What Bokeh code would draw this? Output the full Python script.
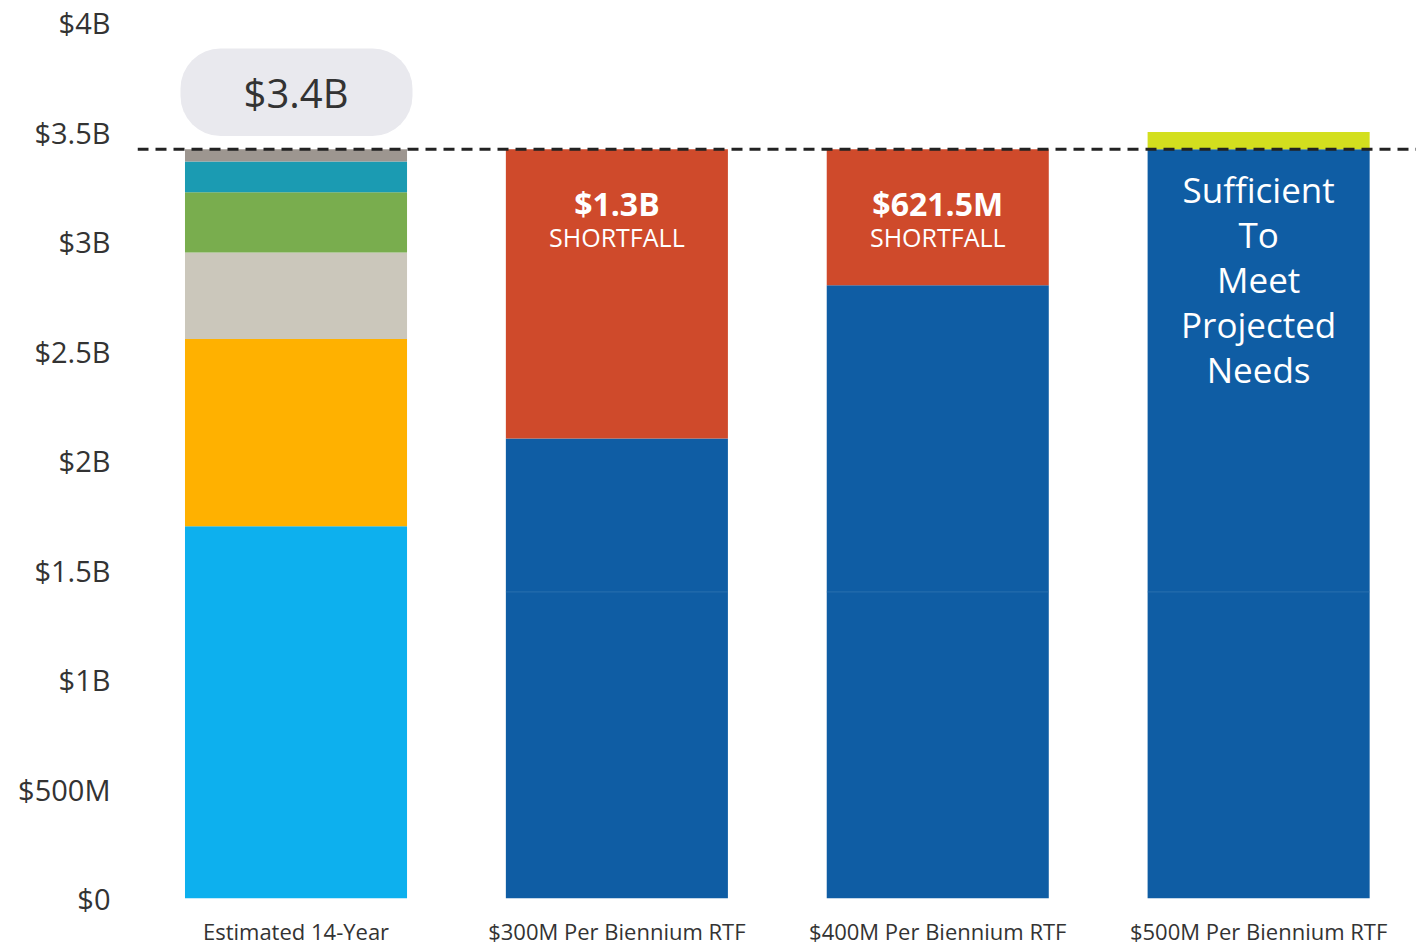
from bokeh.plotting import figure
from bokeh.models import Range1d, FixedTicker, Span
from bokeh.core.properties import value
from bokeh.embed import file_html
from bokeh.resources import INLINE

# ---- data ----
categories = ["Estimated 14-Year", "$300M Per Biennium RTF",
              "$400M Per Biennium RTF", "$500M Per Biennium RTF"]
total_need = 3.4215  # $B

need_segments = [1.70, 0.855, 0.395, 0.275, 0.14, 0.0565]
need_colors = ["#0db0ee", "#ffb100", "#cbc7bb", "#79ad4e", "#1b9bb2", "#9d9690"]

rtf_funded = [2.10, 2.80, 3.50]          # bars 2-4
rtf_split = 1.40                          # faint boundary in funded bars
shortfall_labels = ["$1.3B", "$621.5M"]
sufficient_lines = ["Sufficient", "To", "Meet", "Projected", "Needs"]
badge_label = "$3.4B"

y_ticks = [0, 0.5, 1, 1.5, 2, 2.5, 3, 3.5, 4]
y_tick_labels = ["$0", "$500M", "$1B", "$1.5B", "$2B", "$2.5B", "$3B", "$3.5B", "$4B"]

BLUE = "#0f5da4"
RED = "#cf4a2b"
LIME = "#d3df1e"
FONT = "Open Sans"
W = 0.692

p = figure(width=1416, height=948, output_backend="svg", toolbar_location=None,
           x_range=Range1d(-0.494, 3.492), y_range=Range1d(0, 4),
           min_border_left=137, min_border_right=0, min_border_top=22,
           min_border_bottom=48)
p.outline_line_color = None
p.xgrid.visible = False
p.ygrid.visible = False
p.background_fill_color = "white"

# bar 1 stacked
bottom = 0.0
for v, c in zip(need_segments, need_colors):
    p.vbar(x=[0], bottom=[bottom], top=[bottom + v], width=W, fill_color=c, line_color=None)
    bottom += v

# bars 2-4
xs = [1, 2, 3]
for x, f in zip(xs, rtf_funded):
    top_blue = min(f, total_need)
    p.vbar(x=[x], bottom=[0], top=[top_blue], width=W, fill_color=BLUE, line_color=None)
    if f < total_need:
        p.vbar(x=[x], bottom=[f], top=[total_need], width=W, fill_color=RED, line_color=None)
    else:
        p.vbar(x=[x], bottom=[total_need], top=[f], width=W, fill_color=LIME, line_color=None)
p.segment(x0=[x - W / 2 for x in xs], x1=[x + W / 2 for x in xs],
          y0=[rtf_split] * 3, y1=[rtf_split] * 3, line_color="#3c7cb6", line_width=1, line_alpha=0.6)

# dashed need line
p.add_layout(Span(location=total_need, dimension="width", line_color="#222222",
                  line_width=3, line_dash="11 7"))

# badge
p.quad(left=[-0.36], right=[0.363], bottom=[total_need + 0.06], top=[total_need + 0.46],
       fill_color="#e9e9ee", line_color=None, border_radius=40)
p.text(x=[0], y=[total_need + 0.26], text=[badge_label], text_align="center",
       text_baseline="middle", text_font=value(FONT), text_font_size="40px",
       text_color="#333333")

# shortfall labels
for x, lab in zip([1, 2], shortfall_labels):
    p.text(x=[x], y=[total_need - 0.25], text=[lab], text_align="center",
           text_baseline="middle", text_font=value(FONT), text_font_size="32px",
           text_font_style="bold", text_color="white")
    p.text(x=[x], y=[total_need - 0.40], text=["SHORTFALL"], text_align="center",
           text_baseline="middle", text_font=value(FONT), text_font_size="25px",
           text_color="white")

# sufficient text
p.text(x=[3] * len(sufficient_lines), y=[total_need - 0.185] * len(sufficient_lines),
       y_offset=[i * 45 for i in range(len(sufficient_lines))],
       text=sufficient_lines, text_align="center", text_baseline="middle",
       text_font=value(FONT), text_font_size="35px", text_color="white")

# axes
p.yaxis.ticker = FixedTicker(ticks=y_ticks)
p.yaxis.major_label_overrides = {t: l for t, l in zip(y_ticks, y_tick_labels)}
p.yaxis.major_label_text_font = FONT
p.yaxis.major_label_text_font_size = "29px"
p.yaxis.major_label_text_color = "#333333"
p.yaxis.major_label_standoff = 21
p.yaxis.axis_line_color = None
p.yaxis.major_tick_line_color = None
p.yaxis.minor_tick_line_color = None

p.xaxis.ticker = FixedTicker(ticks=[0, 1, 2, 3])
p.xaxis.major_label_overrides = {i: c for i, c in enumerate(categories)}
p.xaxis.major_label_text_font = FONT
p.xaxis.major_label_text_font_size = "22px"
p.xaxis.major_label_text_color = "#333333"
p.xaxis.major_label_standoff = 11
p.xaxis.axis_line_color = None
p.xaxis.major_tick_line_color = None
p.xaxis.minor_tick_line_color = None

open("out.html", "w").write(file_html(p, INLINE))
